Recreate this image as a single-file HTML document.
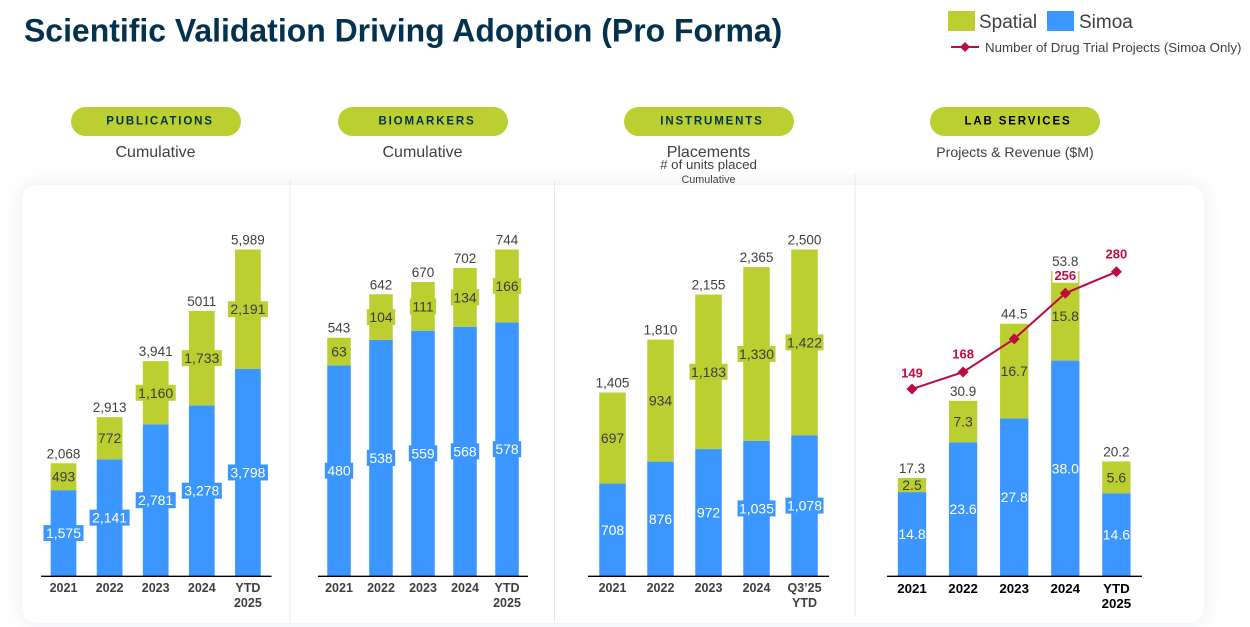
<!DOCTYPE html>
<html lang="en">
<head>
<meta charset="utf-8">
<title>Scientific Validation Driving Adoption (Pro Forma)</title>
<style>
html,body{margin:0;padding:0;background:#fff;}
#stage{position:relative;width:1250px;height:627px;overflow:hidden;background:#fff;font-family:"Liberation Sans",Arial,sans-serif;}
#card{position:absolute;left:22px;top:185px;width:1182px;height:438px;background:#fff;border-radius:14px;box-shadow:0 0 18px rgba(120,135,160,.16);}
svg{position:absolute;left:0;top:0;}
text{font-family:"Liberation Sans",Arial,sans-serif;}
</style>
</head>
<body>
<div id="stage">
<div id="card"></div>
<svg id="chart" width="1250" height="627" viewBox="0 0 1250 627">
  <text x="24" y="41.5" font-size="31.95" font-weight="700" fill="#03324f">Scientific Validation Driving Adoption (Pro Forma)</text>

  <rect x="948" y="11" width="27" height="20" fill="#bccf31"/>
  <text x="979" y="28" font-size="19" fill="#404040">Spatial</text>
  <rect x="1047" y="11" width="27" height="20" fill="#3b97ff"/>
  <text x="1079" y="28" font-size="19" fill="#404040">Simoa</text>
  <line x1="951" y1="47" x2="979" y2="47" stroke="#bd0a3f" stroke-width="2"/>
  <polygon points="965,42 970,47 965,52 960,47" fill="#bd0a3f"/>
  <text x="985" y="52" font-size="13.3" fill="#404040">Number of Drug Trial Projects (Simoa Only)</text>

  <rect x="71" y="107" width="170" height="29" rx="14.5" fill="#bccf31"/>
  <text x="160" y="124.5" font-size="11.5" font-weight="700" letter-spacing="1.85" text-anchor="middle" fill="#03324f">PUBLICATIONS</text>
  <text x="155.5" y="157" font-size="16" text-anchor="middle" fill="#404040">Cumulative</text>

  <rect x="338" y="107" width="170" height="29" rx="14.5" fill="#bccf31"/>
  <text x="427" y="124.5" font-size="11.5" font-weight="700" letter-spacing="1.85" text-anchor="middle" fill="#03324f">BIOMARKERS</text>
  <text x="422.5" y="157" font-size="16" text-anchor="middle" fill="#404040">Cumulative</text>

  <rect x="624" y="107" width="170" height="29" rx="14.5" fill="#bccf31"/>
  <text x="712" y="124.5" font-size="11.5" font-weight="700" letter-spacing="1.85" text-anchor="middle" fill="#03324f">INSTRUMENTS</text>
  <text x="708.5" y="157" font-size="16" text-anchor="middle" fill="#404040">Placements</text>
  <text x="708.5" y="169" font-size="13.3" text-anchor="middle" fill="#404040"># of units placed</text>
  <text x="708.5" y="183" font-size="10.8" text-anchor="middle" fill="#404040">Cumulative</text>

  <rect x="930" y="107" width="170" height="29" rx="14.5" fill="#bccf31"/>
  <text x="1018" y="124.5" font-size="11.5" font-weight="700" letter-spacing="1.85" text-anchor="middle" fill="#000">LAB SERVICES</text>
  <text x="1015" y="157" font-size="14.1" text-anchor="middle" fill="#404040">Projects &amp; Revenue ($M)</text>

  <line x1="290" y1="179" x2="290" y2="622" stroke="#e7e9ed" stroke-width="1"/>
  <line x1="554.5" y1="181" x2="554.5" y2="622" stroke="#e7e9ed" stroke-width="1"/>
  <line x1="855" y1="174" x2="855" y2="617" stroke="#e7e9ed" stroke-width="1"/>
</svg>
</div>
<script>
var pubCategories = ["2021", "2022", "2023", "2024", "YTD|2025"];
var pubSimoa = [1575, 2141, 2781, 3130, 3798];
var pubSpatial = [493, 772, 1160, 1733, 2191];
var pubSimoaLabels = ["1,575", "2,141", "2,781", "3,278", "3,798"];
var pubTotals = ["2,068", "2,913", "3,941", "5011", "5,989"];

var bioCategories = ["2021", "2022", "2023", "2024", "YTD|2025"];
var bioSimoa = [480, 538, 559, 568, 578];
var bioSpatial = [63, 104, 111, 134, 166];
var bioTotals = ["543", "642", "670", "702", "744"];

var instCategories = ["2021", "2022", "2023", "2024", "Q3\u201925|YTD"];
var instSimoa = [708, 876, 972, 1035, 1078];
var instSpatial = [697, 934, 1183, 1330, 1422];
var instTotals = ["1,405", "1,810", "2,155", "2,365", "2,500"];

var labCategories = ["2021", "2022", "2023", "2024", "YTD|2025"];
var labSimoa = [14.8, 23.6, 27.8, 38.0, 14.6];
var labSpatial = [2.5, 7.3, 16.7, 15.8, 5.6];
var labTotals = ["17.3", "30.9", "44.5", "53.8", "20.2"];
var drugTrialProjects = [149, 168, 205, 256, 280];
var drugTrialLabels = ["149", "168", "", "256", "280"];

var NS = "http://www.w3.org/2000/svg";
var svg = document.getElementById("chart");
var BASE = 576;

function mk(tag, attrs) {
  var el = document.createElementNS(NS, tag);
  for (var k in attrs) el.setAttribute(k, attrs[k]);
  svg.appendChild(el);
  return el;
}
function fmtInt(v) { return v.toLocaleString("en-US"); }
function fmtDec(v) { return v.toFixed(1); }

function drawPanel(p) {
  var yScale = function (v) { return v * p.pxPerUnit; };
  var xScale = function (i) { return p.firstCenter + i * p.step; };
  var padFor = function (s) { return s.indexOf(",") >= 0 ? p.labelPad : p.shortPad; };

  p.simoa.forEach(function (v, i) {
    var cx = xScale(i);
    var simoaH = yScale(v);
    var spatialH = yScale(p.spatial[i]);
    var simoaTop = BASE - simoaH;
    var spatialTop = simoaTop - spatialH;
    var cat = p.categories[i];

    var sb = mk("rect", {x: cx - p.barW / 2, y: simoaTop, width: p.barW, height: simoaH, fill: "#3b97ff"});
    
    

    var gb = mk("rect", {x: cx - p.barW / 2, y: spatialTop, width: p.barW, height: spatialH, fill: "#bccf31"});
    
    

    var simoaY = simoaTop + simoaH / 2 + 5;
    var simoaText = mk("text", {x: cx, y: simoaY, "font-size": 14, "text-anchor": "middle", fill: "#fff"});
    simoaText.textContent = p.simoaLabels ? p.simoaLabels[i] : p.fmt(v);
    
    

    var spatialY = spatialTop + spatialH / 2 + 5;
    var spatialText = mk("text", {x: cx, y: spatialY, "font-size": 14, "text-anchor": "middle", fill: "#3c3c3c"});
    spatialText.textContent = p.fmt(p.spatial[i]);
    
    

    if (p.labelPad) {
      var w1 = simoaText.getComputedTextLength() + padFor(simoaText.textContent);
      var bg1 = mk("rect", {x: cx - w1 / 2, y: simoaY - 13, width: w1, height: 16, fill: "#3b97ff"});
      
      
      svg.insertBefore(bg1, simoaText);
      var w2 = spatialText.getComputedTextLength() + padFor(spatialText.textContent);
      var bg2 = mk("rect", {x: cx - w2 / 2, y: spatialY - 13, width: w2, height: 16, fill: "#bccf31"});
      
      
      svg.insertBefore(bg2, spatialText);
    }

    var totalText = mk("text", {x: cx, y: spatialTop - 5, "font-size": 13.5, "text-anchor": "middle", fill: "#404040"});
    totalText.textContent = p.totals[i];
    
    

    cat.split("|").forEach(function (line, j) {
      var t = mk("text", {x: cx, y: p.catY + j * 15, "font-size": p.catSize, "font-weight": 700, "text-anchor": "middle", fill: p.catColor});
      t.textContent = line;
      
      
    });
  });

  var axis = mk("line", {x1: p.axisFrom, x2: p.axisTo, y1: BASE + 0.3, y2: BASE + 0.3, stroke: "#000", "stroke-width": 1.4});
  
  
}

drawPanel({key: "publications", categories: pubCategories, simoa: pubSimoa, spatial: pubSpatial, simoaLabels: pubSimoaLabels, totals: pubTotals,
  pxPerUnit: 326.5 / 5989, firstCenter: 63.5, step: 46.1, barW: 25.7, axisFrom: 41, axisTo: 271.5, fmt: fmtInt, labelPad: 5, shortPad: 0, catColor: "#3f3f3f", catSize: 12.5, catY: 592});
drawPanel({key: "biomarkers", categories: bioCategories, simoa: bioSimoa, spatial: bioSpatial, totals: bioTotals,
  pxPerUnit: 326.5 / 744, firstCenter: 339, step: 42, barW: 23.5, axisFrom: 318, axisTo: 528, fmt: fmtInt, labelPad: 5, shortPad: 5, catColor: "#3f3f3f", catSize: 12.5, catY: 592});
drawPanel({key: "instruments", categories: instCategories, simoa: instSimoa, spatial: instSpatial, totals: instTotals,
  pxPerUnit: 326.5 / 2500, firstCenter: 612.5, step: 48, barW: 26.5, axisFrom: 588, axisTo: 829, fmt: fmtInt, labelPad: 3, shortPad: 0, catColor: "#3f3f3f", catSize: 12.5, catY: 592});
drawPanel({key: "lab-services", categories: labCategories, simoa: labSimoa, spatial: labSpatial, totals: labTotals,
  pxPerUnit: 305 / 53.8, firstCenter: 912, step: 51.1, barW: 28.3, axisFrom: 887, axisTo: 1142, fmt: fmtDec, labelPad: 0, shortPad: 0, catColor: "#000", catSize: 13.3, catY: 593});

function trialX(i) { return 912 + i * 51.1; }
function trialY(v) { return 522.4 - 0.895 * v; }

var trialPoints = drugTrialProjects.map(function (v, i) { return trialX(i) + "," + trialY(v); }).join(" ");
var trialLine = mk("polyline", {points: trialPoints, fill: "none", stroke: "#bd0a3f", "stroke-width": 2});



drugTrialProjects.forEach(function (v, i) {
  var x = trialX(i), y = trialY(v);
  var d = mk("polygon", {points: x + "," + (y - 5.5) + " " + (x + 5.5) + "," + y + " " + x + "," + (y + 5.5) + " " + (x - 5.5) + "," + y, fill: "#bd0a3f"});
  
  
  if (drugTrialLabels[i]) {
    var labelY = y - 13.5 + (i === 0 ? 2 : 0);
    var label = mk("text", {x: x, y: labelY, "font-size": 13, "font-weight": 700, "text-anchor": "middle", fill: "#c00d3e"});
    label.textContent = drugTrialLabels[i];
    
    
    if (i === 3) {
      var w = label.getComputedTextLength() + 4;
      var bg = mk("rect", {x: x - w / 2, y: labelY - 10, width: w, height: 13, fill: "#fff"});
      
      
      svg.insertBefore(bg, label);
    }
  }
});
</script>
</body>
</html>
